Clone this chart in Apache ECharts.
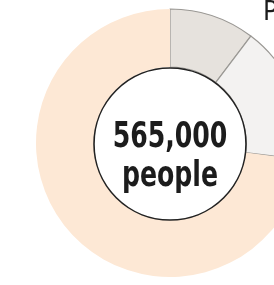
<!DOCTYPE html>
<html>
<head>
<meta charset="utf-8">
<script src="https://cdn.jsdelivr.net/npm/echarts@6/dist/echarts.min.js"></script>
<style>
  html, body { margin: 0; padding: 0; background: #fff; }
  #chart { width: 274px; height: 285px; }
</style>
</head>
<body>
<div id="chart"></div>
<script>
// shares of the 565,000 people (clockwise from 12 o'clock)
const segmentNames = ['Group A', 'Group B', 'Group C']
const segmentValues = [10.3, 16.7, 73]
const segmentColors = ['#e6e2dd', '#f3f2f1', '#fde8d5']
const segmentBorders = ['#9a9894', '#9a9894', '#fde8d5']
const centerText = ['565,000', 'people']
const cornerLabel = 'P'

const fontName = '"DejaVu Sans Condensed", "Liberation Sans Narrow", sans-serif'

const chart = echarts.init(document.getElementById('chart'))

const option = {
  animation: false,
  series: [
    {
      type: 'pie',
      radius: [76, 134],
      center: [170, 143],
      startAngle: 90,
      clockwise: true,
      silent: true,
      label: { show: false },
      labelLine: { show: false },
      data: segmentNames.map((name, i) => ({
        name: name,
        value: segmentValues[i],
        itemStyle: {
          color: segmentColors[i],
          borderColor: segmentBorders[i],
          borderWidth: i < 2 ? 1.2 : 0
        }
      }))
    },
    {
      // white centre disc
      type: 'pie',
      radius: [0, 76],
      center: [170, 144],
      silent: true,
      label: { show: false },
      labelLine: { show: false },
      data: [{
        name: 'total',
        value: 1,
        itemStyle: { color: '#ffffff', borderColor: '#222222', borderWidth: 1.6 }
      }]
    }
  ],
  graphic: [
    {
      // condensed centre label (narrowed like the original typeface)
      type: 'text',
      x: 170,
      y: 157,
      scaleX: 0.8,
      z: 100,
      style: {
        text: centerText.join('\n'),
        textAlign: 'center',
        textVerticalAlign: 'middle',
        fontFamily: fontName,
        fontWeight: 'bold',
        fontSize: 35,
        lineHeight: 39,
        fill: '#1c1c1c'
      }
    },
    {
      type: 'text',
      left: 263,
      top: -1,
      z: 100,
      style: {
        text: cornerLabel,
        fontFamily: fontName,
        fontSize: 27,
        fill: '#1c1c1c'
      }
    }
  ]
}

chart.setOption(option)
</script>
</body>
</html>
